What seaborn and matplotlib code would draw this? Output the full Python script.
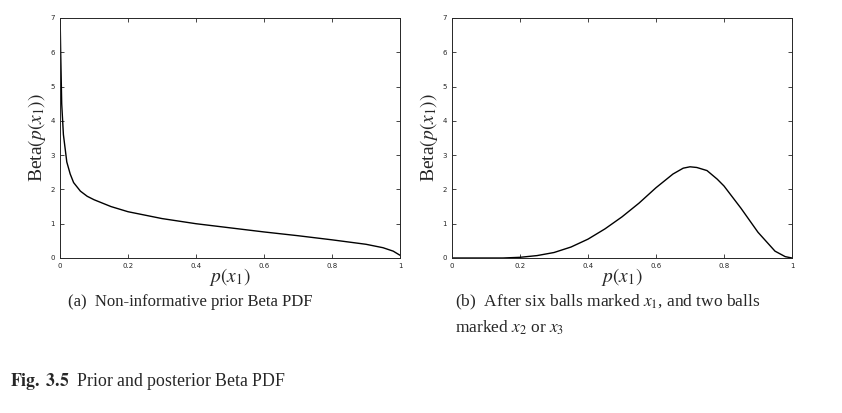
import numpy as np
import pandas as pd
import matplotlib
matplotlib.use("Agg")
import matplotlib.pyplot as plt
import seaborn as sb

sb.set_style("ticks")
plt.rcParams['font.family'] = ['Liberation Serif', 'DejaVu Serif']
plt.rcParams['mathtext.fontset'] = 'stix'

# values
prior_x = [0.0005, 0.002, 0.005, 0.01, 0.02, 0.03, 0.04, 0.06, 0.08, 0.1, 0.15, 0.2, 0.3, 0.4, 0.5,
           0.6, 0.7, 0.8, 0.9, 0.95, 0.98, 1.0]
prior_y = [6.9, 6.0, 4.5, 3.6, 2.8, 2.45, 2.2, 1.95, 1.8, 1.7, 1.5, 1.35, 1.15, 1.0, 0.88,
           0.76, 0.65, 0.53, 0.4, 0.3, 0.2, 0.08]
post_x = [0.0, 0.15, 0.2, 0.25, 0.3, 0.35, 0.4, 0.45, 0.5, 0.55, 0.6, 0.65, 0.68, 0.7,
          0.72, 0.75, 0.78, 0.8, 0.85, 0.9, 0.95, 0.98, 1.0]
post_y = [0.0, 0.0, 0.02, 0.07, 0.16, 0.32, 0.55, 0.85, 1.2, 1.6, 2.05, 2.45, 2.62, 2.66,
          2.64, 2.55, 2.3, 2.1, 1.45, 0.75, 0.2, 0.04, 0.0]
ticks_x = [0, 0.2, 0.4, 0.6, 0.8, 1]
ticks_y = [0, 1, 2, 3, 4, 5, 6, 7]

fig = plt.figure(figsize=(8.42, 4.13), dpi=100)
ax1 = fig.add_axes([60/842, 1-258/413, 340/842, 240/413])
ax2 = fig.add_axes([452/842, 1-258/413, 340/842, 240/413])

for ax, xs, ys in [(ax1, prior_x, prior_y), (ax2, post_x, post_y)]:
    df = pd.DataFrame({"x": xs, "y": ys})
    sb.lineplot(data=df, x="x", y="y", ax=ax, color="black", linewidth=1)
    ax.set_xlim(0, 1)
    ax.set_ylim(0, 7)
    ax.set_xticks(ticks_x)
    ax.set_xticklabels(["0", "0.2", "0.4", "0.6", "0.8", "1"])
    ax.set_yticks(ticks_y)
    ax.tick_params(direction="in", top=True, right=True, labelsize=5, length=3, width=0.6)
    for lab in ax.get_xticklabels() + ax.get_yticklabels():
        lab.set_family("DejaVu Sans")
    for s in ax.spines.values():
        s.set_linewidth(0.7)
    ax.set_xlabel(r"$p(x_1)$", fontsize=14, labelpad=-2)
    ax.set_ylabel(r"Beta$(p(x_1))$", fontsize=14, labelpad=2)

fig.text(68/842, 1-302/413, "(a)  Non-informative prior Beta PDF", fontsize=12, va="center")
fig.text(455/842, 1-302/413, r"(b)  After six balls marked $x_1$, and two balls", fontsize=12.5, va="center")
fig.text(455/842, 1-328/413, r"marked $x_2$ or $x_3$", fontsize=12.5, va="center")
fig.text(10/842, 1-382/413, r"$\mathbf{Fig.\ 3.5}$  Prior and posterior Beta PDF", fontsize=12.8, va="center")

fig.savefig("out.png", dpi=100)
